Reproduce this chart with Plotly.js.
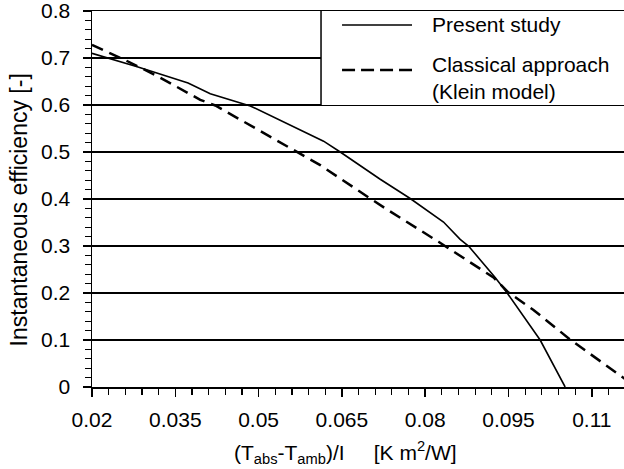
<!DOCTYPE html>
<html>
<head>
<meta charset="utf-8">
<script src="https://cdn.plot.ly/plotly-3.0.1.min.js"></script>
<style>html,body{margin:0;padding:0;background:#fff;}#chart{width:624px;height:469px;}</style>
</head>
<body>
<div id="chart"></div>
<script>
// Present study (solid line)
const presentX = [0.020, 0.028, 0.0373, 0.0413, 0.0485, 0.0575, 0.0617, 0.0647, 0.0719, 0.0773, 0.0833, 0.0863, 0.0878, 0.0926, 0.0947, 0.1007, 0.1052];
const presentY = [0.710, 0.682, 0.647, 0.624, 0.598, 0.548, 0.523, 0.500, 0.442, 0.401, 0.351, 0.314, 0.300, 0.233, 0.201, 0.100, 0.000];
// Classical approach (Klein model) (dashed line)
const classicX = [0.020, 0.0259, 0.0317, 0.0395, 0.0422, 0.0472, 0.0569, 0.0611, 0.0701, 0.0731, 0.0824, 0.0923, 0.0950, 0.0995, 0.1061, 0.1158, 0.1180];
const classicY = [0.728, 0.696, 0.662, 0.611, 0.599, 0.565, 0.500, 0.472, 0.401, 0.378, 0.309, 0.233, 0.201, 0.164, 0.101, 0.017, 0.000];

const xTickVals = [0.02, 0.035, 0.05, 0.065, 0.08, 0.095, 0.11];
const xTickText = ["0.02", "0.035", "0.05", "0.065", "0.08", "0.095", "0.11"];
const yTickVals = [0, 0.1, 0.2, 0.3, 0.4, 0.5, 0.6, 0.7, 0.8];
const yTickText = ["0", "0.1", "0.2", "0.3", "0.4", "0.5", "0.6", "0.7", "0.8"];
const seriesNames = ["Present study", "Classical approach<br>(Klein model)"];

const FONT = "Liberation Sans, Arial, sans-serif";

const traces = [
  {x: presentX, y: presentY, type: "scatter", mode: "lines", name: seriesNames[0],
   line: {color: "black", width: 1.6}, showlegend: false},
  {x: classicX, y: classicY, type: "scatter", mode: "lines", name: seriesNames[1],
   line: {color: "black", width: 2.5, dash: "12px,7px"}, showlegend: false}
];

const legX0 = 0.4305;
const layout = {
  width: 624, height: 469,
  margin: {l: 92, r: 0, t: 11, b: 82, pad: 0},
  paper_bgcolor: "white", plot_bgcolor: "white",
  font: {family: FONT, size: 21, color: "black"},
  showlegend: false,
  xaxis: {
    range: [0.02, 0.1158], tickvals: xTickVals, ticktext: xTickText,
    ticks: "outside", ticklen: 8, tickwidth: 1.5, tickcolor: "black",
    showline: true, linewidth: 1.5, linecolor: "black", mirror: true,
    showgrid: false, zeroline: false, ticklabelstandoff: 5, ticklabeloverflow: "allow",
    tickfont: {family: FONT, size: 21, color: "black"},
    minor: {tick0: 0.02, dtick: 0.003, ticks: "outside", ticklen: 6, tickwidth: 1.2, tickcolor: "black", showgrid: false}
  },
  xaxis2: {
    range: [0.02, 0.1158], overlaying: "x", anchor: "y", side: "bottom",
    tickvals: xTickVals, ticks: "inside", ticklen: 7, tickwidth: 1.5, tickcolor: "black",
    showticklabels: false, showgrid: false, showline: false, zeroline: false
  },
  yaxis: {
    range: [0, 0.8], tickvals: yTickVals, ticktext: yTickText,
    ticks: "outside", ticklen: 8, tickwidth: 1.5, tickcolor: "black",
    showline: true, linewidth: 1.5, linecolor: "black",
    showgrid: true, gridcolor: "black", gridwidth: 1.5, zeroline: false,
    ticklabelstandoff: 8, ticklabeloverflow: "allow",
    tickfont: {family: FONT, size: 21, color: "black"},
    minor: {tick0: 0, dtick: 0.02, ticks: "outside", ticklen: 6, tickwidth: 1.2, tickcolor: "black", showgrid: false}
  },
  shapes: [
    {type: "rect", xref: "paper", yref: "paper", x0: legX0, x1: 1, y0: 0.75, y1: 1,
     fillcolor: "white", line: {width: 0}, layer: "above"},
    {type: "line", xref: "paper", yref: "paper", x0: legX0, x1: legX0, y0: 0.75, y1: 1,
     line: {color: "black", width: 1.5}, layer: "above"},
    {type: "line", xref: "paper", yref: "paper", x0: 0.47, x1: 0.6015, y0: 0.9628, y1: 0.9628,
     line: {color: "black", width: 1.6}, layer: "above"},
    {type: "line", xref: "paper", yref: "paper", x0: 0.47, x1: 0.6015, y0: 0.843, y1: 0.843,
     line: {color: "black", width: 2.5, dash: "13px,6px"}, layer: "above"}
  ],
  annotations: [
    {text: seriesNames[0], xref: "paper", yref: "paper", x: 0.635, y: 0.9628,
     xanchor: "left", yanchor: "middle", showarrow: false, align: "left",
     font: {family: FONT, size: 21, color: "black"}},
    {text: seriesNames[1], xref: "paper", yref: "paper", x: 0.635, y: 0.8205,
     xanchor: "left", yanchor: "middle", showarrow: false, align: "left",
     font: {family: FONT, size: 21, color: "black"}},
    {text: "Instantaneous efficiency [-]", xref: "paper", yref: "paper", x: -0.137, y: 0.47,
     xanchor: "center", yanchor: "middle", textangle: -90, showarrow: false,
     font: {family: FONT, size: 23, color: "black"}},
    {text: "(T<sub>abs</sub>-T<sub>amb</sub>)/I\u00A0\u00A0\u00A0\u00A0\u00A0[K m<sup>2</sup>/W]", xref: "paper", yref: "paper",
     x: 0.4765, y: -0.1755, xanchor: "center", yanchor: "middle", showarrow: false,
     font: {family: FONT, size: 21, color: "black"}}
  ]
};

Plotly.newPlot("chart", traces, layout, {staticPlot: true, displayModeBar: false});
</script>
</body>
</html>
